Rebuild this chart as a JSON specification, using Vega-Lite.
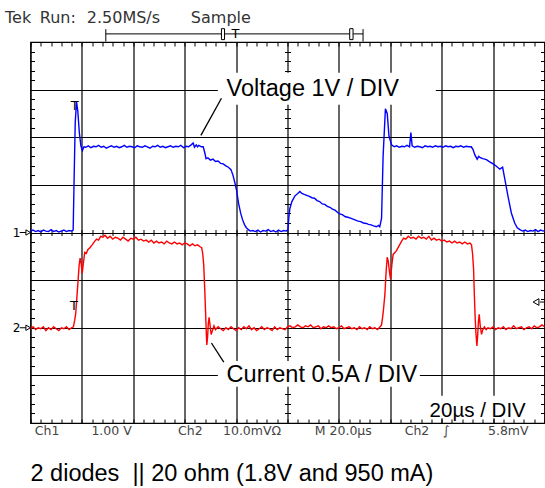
{
  "$schema": "https://vega.github.io/schema/vega-lite/v6.json",
  "autosize": {"type": "none"},
  "width": 514,
  "height": 381,
  "padding": {"left": 30.5, "top": 42, "right": 0.5, "bottom": 65},
  "background": "#ffffff",
  "config": {
    "view": {"stroke": "#000000", "strokeWidth": 1.2},
    "axis": {"grid": false, "labels": false, "domain": false, "tickColor": "#000000", "tickWidth": 1, "gridColor": "#000000", "gridOpacity": 1, "gridWidth": 1.2}
  },
  "datasets": {
    "voltage": [
      {"t":0,"v":0.03},{"t":1,"v":0.05},{"t":2,"v":0.02},{"t":3,"v":0.04},{"t":4,"v":0.01},{"t":5,"v":0.05},{"t":6,"v":0.03},{"t":7,"v":0.02},{"t":8,"v":0.06},{"t":9,"v":0.02},{"t":10,"v":0.04},{"t":11,"v":0.01},{"t":12,"v":0.03},{"t":13,"v":0.05},{"t":14,"v":0.02},{"t":15,"v":0.04},{"t":16,"v":0.03},{"t":16.6,"v":0.05},
      {"t":17.0,"v":1.2},{"t":17.4,"v":2.3},{"t":17.9,"v":2.75},{"t":18.4,"v":2.55},{"t":19.0,"v":2.1},{"t":19.6,"v":1.82},{"t":20.2,"v":1.72},{"t":20.8,"v":1.8},
      {"t":21.5,"v":1.79},{"t":22.5,"v":1.82},{"t":23.5,"v":1.78},{"t":24.5,"v":1.81},{"t":25.5,"v":1.8},{"t":26.5,"v":1.83},{"t":27.5,"v":1.79},{"t":28.5,"v":1.81},{"t":29.5,"v":1.77},{"t":30.5,"v":1.8},{"t":31.5,"v":1.82},{"t":32.5,"v":1.79},{"t":33.5,"v":1.81},{"t":34.5,"v":1.78},{"t":35.5,"v":1.8},{"t":36.5,"v":1.83},{"t":37.5,"v":1.79},{"t":38.5,"v":1.81},{"t":39.5,"v":1.8},{"t":40.5,"v":1.78},{"t":41.5,"v":1.82},{"t":42.5,"v":1.8},{"t":43.5,"v":1.79},{"t":44.5,"v":1.82},{"t":45.5,"v":1.8},{"t":46.5,"v":1.77},{"t":47.5,"v":1.81},{"t":48.5,"v":1.8},{"t":49.5,"v":1.83},{"t":50.5,"v":1.79},{"t":51.5,"v":1.81},{"t":52.5,"v":1.78},{"t":53.5,"v":1.8},{"t":54.5,"v":1.82},{"t":55.5,"v":1.79},{"t":56.5,"v":1.81},{"t":57.5,"v":1.8},{"t":58.5,"v":1.83},{"t":59.5,"v":1.78},{"t":60.5,"v":1.81},{"t":61.5,"v":1.8},{"t":62.5,"v":1.84},{"t":63.3,"v":1.88},{"t":63.8,"v":1.79},{"t":64.5,"v":1.84},{"t":65.0,"v":1.8},{"t":65.5,"v":1.83},{"t":66.5,"v":1.8},{"t":67.2,"v":1.8},
      {"t":67.8,"v":1.68},{"t":68.3,"v":1.55},{"t":69,"v":1.57},{"t":70,"v":1.52},{"t":71,"v":1.54},{"t":72,"v":1.49},{"t":73,"v":1.5},{"t":74,"v":1.45},{"t":75,"v":1.44},{"t":76,"v":1.4},{"t":77,"v":1.37},{"t":78,"v":1.32},
      {"t":78.8,"v":1.2},{"t":79.5,"v":1.05},{"t":80.2,"v":0.88},{"t":81,"v":0.6},{"t":81.8,"v":0.4},{"t":82.5,"v":0.27},{"t":83.3,"v":0.16},{"t":84,"v":0.1},{"t":84.8,"v":0.06},{"t":85.5,"v":0.03},
      {"t":86.5,"v":0.04},{"t":87.5,"v":0.02},{"t":88.5,"v":0.05},{"t":89.5,"v":0.01},{"t":90.5,"v":0.04},{"t":91.5,"v":0.03},{"t":92.5,"v":0.06},{"t":93.5,"v":0.02},{"t":94.5,"v":0.04},{"t":95.5,"v":0.01},{"t":96.5,"v":0.05},{"t":97.5,"v":0.02},{"t":98.5,"v":0.04},{"t":99.5,"v":0.03},
      {"t":100.2,"v":0.06},{"t":100.5,"v":0.3},{"t":100.9,"v":0.5},{"t":101.7,"v":0.65},{"t":102.9,"v":0.77},{"t":104,"v":0.82},{"t":104.8,"v":0.86},{"t":105.6,"v":0.82},{"t":106.5,"v":0.8},{"t":107.5,"v":0.78},{"t":108.5,"v":0.76},{"t":109.5,"v":0.73},{"t":110.5,"v":0.72},{"t":111.5,"v":0.67},{"t":112.5,"v":0.65},{"t":113.5,"v":0.6},{"t":114.5,"v":0.59},{"t":115.5,"v":0.55},{"t":116.5,"v":0.53},{"t":117.5,"v":0.49},{"t":118.5,"v":0.47},{"t":119.5,"v":0.42},{"t":120.4,"v":0.39},{"t":121.5,"v":0.37},{"t":122.5,"v":0.33},{"t":123.5,"v":0.32},{"t":124.5,"v":0.3},{"t":125.5,"v":0.28},{"t":126.5,"v":0.26},{"t":127.5,"v":0.24},{"t":128.5,"v":0.23},{"t":129.5,"v":0.2},{"t":130.7,"v":0.19},{"t":131.5,"v":0.17},{"t":132.5,"v":0.16},{"t":133.5,"v":0.14},{"t":134.6,"v":0.12},{"t":135.4,"v":0.15},{"t":135.9,"v":0.12},
      {"t":136.6,"v":0.3},{"t":137.2,"v":1.6},{"t":138.1,"v":2.6},{"t":138.8,"v":2.5},{"t":139.5,"v":2.02},{"t":140.5,"v":1.84},
      {"t":141.5,"v":1.8},{"t":142.5,"v":1.82},{"t":143.5,"v":1.79},{"t":144.5,"v":1.81},{"t":145.5,"v":1.8},{"t":146.5,"v":1.83},{"t":147.5,"v":1.8},{"t":148.0,"v":2.1},{"t":148.5,"v":1.82},{"t":149.5,"v":1.79},{"t":150.5,"v":1.81},{"t":151.5,"v":1.8},{"t":152.5,"v":1.78},{"t":153.5,"v":1.82},{"t":154.5,"v":1.8},{"t":155.5,"v":1.81},{"t":156.5,"v":1.79},{"t":157.5,"v":1.82},{"t":158.5,"v":1.8},{"t":159.5,"v":1.81},{"t":160.5,"v":1.79},{"t":161.5,"v":1.82},{"t":162.5,"v":1.8},{"t":163.5,"v":1.81},{"t":164.5,"v":1.78},{"t":165.5,"v":1.81},{"t":166.5,"v":1.8},{"t":167.5,"v":1.82},{"t":168.5,"v":1.79},{"t":169.5,"v":1.81},{"t":170.5,"v":1.8},{"t":171.5,"v":1.8},
      {"t":172.2,"v":1.74},{"t":172.9,"v":1.63},{"t":173.8,"v":1.54},{"t":174.4,"v":1.6},{"t":175,"v":1.57},{"t":176,"v":1.55},{"t":177.4,"v":1.53},{"t":178.5,"v":1.49},{"t":180,"v":1.44},{"t":181.3,"v":1.39},{"t":182.6,"v":1.33},{"t":183.7,"v":1.37},
      {"t":184.6,"v":1.11},{"t":185.8,"v":0.76},{"t":187.1,"v":0.41},{"t":188.4,"v":0.2},{"t":189.4,"v":0.1},{"t":190.4,"v":0.06},
      {"t":191.5,"v":0.03},{"t":192.5,"v":0.05},{"t":193.5,"v":0.02},{"t":194.5,"v":0.04},{"t":195.5,"v":0.03},{"t":196.5,"v":0.06},{"t":197.5,"v":0.02},{"t":198.5,"v":0.05},{"t":199.5,"v":0.03},{"t":200,"v":0.04}
    ],
    "current": [
      {"t":0,"a":-0.01},{"t":1,"a":0.01},{"t":2,"a":-0.02},{"t":3,"a":0.0},{"t":4,"a":-0.01},{"t":5,"a":0.01},{"t":6,"a":-0.03},{"t":7,"a":0.0},{"t":8,"a":-0.02},{"t":9,"a":0.01},{"t":10,"a":-0.01},{"t":11,"a":-0.03},{"t":12,"a":0.0},{"t":13,"a":-0.01},{"t":14,"a":0.01},{"t":15,"a":-0.02},{"t":16,"a":0.0},{"t":16.7,"a":0.01},
      {"t":17.2,"a":0.08},{"t":17.6,"a":0.15},{"t":18.0,"a":0.3},{"t":18.5,"a":0.49},{"t":18.9,"a":0.65},{"t":19.3,"a":0.73},{"t":19.7,"a":0.68},{"t":20.1,"a":0.57},{"t":20.5,"a":0.66},{"t":21.1,"a":0.79},{"t":21.7,"a":0.78},{"t":22.3,"a":0.82},{"t":23.1,"a":0.84},{"t":24,"a":0.87},{"t":25,"a":0.91},{"t":25.7,"a":0.93},{"t":26.5,"a":0.92},{"t":27.3,"a":0.96},{"t":28.2,"a":0.95},{"t":29,"a":0.97},{"t":30,"a":0.94},{"t":31,"a":0.96},{"t":32,"a":0.93},{"t":33,"a":0.95},{"t":34,"a":0.94},{"t":35,"a":0.92},{"t":36,"a":0.95},{"t":37,"a":0.93},{"t":38,"a":0.91},{"t":39,"a":0.94},{"t":40,"a":0.93},{"t":41,"a":0.95},{"t":42,"a":0.92},{"t":43,"a":0.93},{"t":44,"a":0.91},{"t":45,"a":0.92},{"t":46,"a":0.9},{"t":47,"a":0.92},{"t":48,"a":0.89},{"t":49,"a":0.91},{"t":50,"a":0.89},{"t":51,"a":0.9},{"t":52,"a":0.88},{"t":53,"a":0.91},{"t":54,"a":0.89},{"t":55,"a":0.88},{"t":56,"a":0.9},{"t":57,"a":0.88},{"t":58,"a":0.89},{"t":59,"a":0.87},{"t":60,"a":0.89},{"t":61,"a":0.88},{"t":62,"a":0.86},{"t":63,"a":0.88},{"t":64,"a":0.86},{"t":65,"a":0.87},{"t":66,"a":0.85},{"t":66.6,"a":0.84},
      {"t":67.0,"a":0.78},{"t":67.4,"a":0.66},{"t":67.8,"a":0.4},{"t":68.1,"a":0.18},{"t":68.4,"a":-0.05},{"t":68.6,"a":-0.18},{"t":68.9,"a":-0.1},{"t":69.2,"a":0.05},{"t":69.5,"a":0.11},{"t":69.9,"a":0.02},{"t":70.3,"a":-0.07},{"t":70.8,"a":-0.03},{"t":71.4,"a":0.02},{"t":72,"a":-0.02},{"t":73,"a":0.01},{"t":74,"a":-0.01},{"t":75,"a":-0.03},{"t":76,"a":0.0},{"t":77,"a":-0.02},{"t":78,"a":0.01},{"t":79,"a":-0.01},{"t":80,"a":-0.03},{"t":81,"a":0.0},{"t":82,"a":-0.02},{"t":83,"a":0.01},{"t":84,"a":-0.01},{"t":85,"a":0.02},{"t":86,"a":-0.02},{"t":87,"a":0.0},{"t":88,"a":-0.03},{"t":89,"a":-0.01},{"t":90,"a":0.01},{"t":91,"a":-0.02},{"t":92,"a":0.0},{"t":93,"a":-0.01},{"t":94,"a":-0.03},{"t":95,"a":0.01},{"t":96,"a":-0.02},{"t":97,"a":0.0},{"t":98,"a":-0.01},{"t":99,"a":-0.02},{"t":100,"a":0.01},{"t":101,"a":0.02},{"t":102,"a":0.0},{"t":103,"a":0.01},{"t":104,"a":0.03},{"t":105,"a":0.01},{"t":106,"a":0.0},{"t":107,"a":0.02},{"t":108,"a":0.01},{"t":109,"a":0.03},{"t":110,"a":0.0},{"t":111,"a":0.01},{"t":112,"a":0.02},{"t":113,"a":-0.01},{"t":114,"a":0.01},{"t":115,"a":0.0},{"t":116,"a":0.02},{"t":117,"a":0.0},{"t":118,"a":0.01},{"t":119,"a":-0.01},{"t":120,"a":0.0},{"t":121,"a":0.02},{"t":122,"a":-0.01},{"t":123,"a":0.0},{"t":124,"a":0.01},{"t":125,"a":-0.01},{"t":126,"a":0.0},{"t":127,"a":-0.02},{"t":128,"a":0.01},{"t":129,"a":-0.01},{"t":130,"a":0.0},{"t":131,"a":-0.02},{"t":132,"a":0.01},{"t":133,"a":-0.01},{"t":134,"a":0.0},{"t":135,"a":-0.02},{"t":136,"a":0.01},
      {"t":136.6,"a":0.03},{"t":137.2,"a":0.15},{"t":137.9,"a":0.35},{"t":138.4,"a":0.6},{"t":138.8,"a":0.74},{"t":139.2,"a":0.7},{"t":139.7,"a":0.58},{"t":140.1,"a":0.51},{"t":140.6,"a":0.66},{"t":141.1,"a":0.77},{"t":141.8,"a":0.79},{"t":142.4,"a":0.81},{"t":143.4,"a":0.86},{"t":144.4,"a":0.91},{"t":145.2,"a":0.94},{"t":146,"a":0.93},{"t":147,"a":0.96},{"t":148,"a":0.94},{"t":149,"a":0.95},{"t":150,"a":0.93},{"t":151,"a":0.96},{"t":152,"a":0.94},{"t":153,"a":0.95},{"t":154,"a":0.93},{"t":155,"a":0.96},{"t":156,"a":0.92},{"t":157,"a":0.94},{"t":158,"a":0.92},{"t":159,"a":0.93},{"t":160,"a":0.91},{"t":161,"a":0.92},{"t":162,"a":0.9},{"t":163,"a":0.91},{"t":164,"a":0.89},{"t":165,"a":0.91},{"t":166,"a":0.89},{"t":167,"a":0.9},{"t":168,"a":0.88},{"t":169,"a":0.9},{"t":170,"a":0.88},{"t":171,"a":0.89},{"t":171.6,"a":0.87},
      {"t":172,"a":0.78},{"t":172.4,"a":0.62},{"t":172.7,"a":0.35},{"t":173,"a":0.12},{"t":173.3,"a":-0.05},{"t":173.7,"a":-0.19},{"t":174,"a":-0.08},{"t":174.3,"a":0.07},{"t":174.6,"a":0.14},{"t":175,"a":0.02},{"t":175.5,"a":-0.07},{"t":176,"a":-0.02},{"t":176.6,"a":0.01},{"t":177.3,"a":-0.02},{"t":178,"a":0.0},{"t":179,"a":-0.01},{"t":180,"a":0.01},{"t":181,"a":-0.02},{"t":182,"a":0.0},{"t":183,"a":-0.01},{"t":184,"a":0.01},{"t":185,"a":-0.02},{"t":186,"a":0.0},{"t":187,"a":-0.01},{"t":188,"a":0.02},{"t":189,"a":-0.01},{"t":190,"a":0.0},{"t":191,"a":0.01},{"t":192,"a":-0.02},{"t":193,"a":0.0},{"t":194,"a":0.01},{"t":195,"a":-0.01},{"t":196,"a":0.02},{"t":197,"a":0.0},{"t":198,"a":0.01},{"t":199,"a":0.03},{"t":200,"a":0.01}
    ],
    "boxes": [
      {"t1":72.9,"t2":157.7,"v1":3.355,"v2":2.68},
      {"t1":72.9,"t2":151.5,"v1":-2.7,"v2":-3.24},
      {"t1":153.4,"t2":194.3,"v1":-3.43,"v2":-3.9}
    ],
    "leaders": [
      {"t1":74.3,"v1":2.82,"t2":66.3,"v2":2.04},
      {"t1":70.4,"v1":-2.32,"t2":75.2,"v2":-2.72}
    ],
    "bigLabels": [
      {"text":"Voltage 1V / DIV","t":76.3,"v":2.87},
      {"text":"Current 0.5A / DIV","t":76.3,"v":-3.13}
    ],
    "timeLabel": [{"text":"20µs / DIV","t":155.3,"v":-3.88}],
    "caption": [{"text":"2 diodes\u00a0 || 20 ohm (1.8V and 950 mA)","t":0,"v":-5.21}],
    "topText": [
      {"text":"Tek","t":-9.9,"v":4.395},
      {"text":"Run:","t":3.6,"v":4.395},
      {"text":"2.50MS/s","t":21.9,"v":4.395},
      {"text":"Sample","t":62.4,"v":4.395}
    ],
    "bottomText": [
      {"text":"Ch1","t":1.7,"v":-4.26},
      {"text":"1.00 V","t":23.7,"v":-4.26},
      {"text":"Ch2","t":57.4,"v":-4.26},
      {"text":"10.0mVΩ","t":74.9,"v":-4.26},
      {"text":"M 20.0µs","t":110.6,"v":-4.26},
      {"text":"Ch2","t":145.6,"v":-4.26},
      {"text":"∫","t":160.4,"v":-4.26},
      {"text":"5.8mV","t":178,"v":-4.26}
    ],
    "markers": [
      {"text":"T","t":17.2,"v":2.79},
      {"text":"T","t":16.9,"v":-1.41},
      {"text":"T","t":79.8,"v":4.29}
    ],
    "chanLabels": [
      {"text":"1","t":-6.9,"v":0},
      {"text":"2","t":-6.9,"v":-2}
    ],
    "arrowStems": [
      {"t1":-4.2,"t2":-1.6,"v":0},
      {"t1":-4.2,"t2":-1.6,"v":-2},
      {"t1":198.2,"t2":200.1,"v":-1.46},
      {"t1":29.3,"t2":129.4,"v":4.17}
    ],
    "rulerCaps": [
      {"t":29.3,"v1":4.01,"v2":4.27},
      {"t":129.4,"v1":4.01,"v2":4.27}
    ],
    "rulerBoxes": [
      {"t1":74.3,"t2":75.5,"v1":4.05,"v2":4.28},
      {"t1":124.2,"t2":125.5,"v1":4.05,"v2":4.28}
    ],
    "arrowsRight": [
      {"t":-0.9,"v":0},
      {"t":-0.9,"v":-2}
    ],
    "arrowsLeft": [
      {"t":196.7,"v":-1.46}
    ]
  },
  "resolve": {"scale": {"y": "independent"}, "axis": {"x": "independent", "y": "independent"}},
  "layer": [
    {
      "data": {"name": "boxes"},
      "mark": {"type": "rect", "fill": "#ffffff", "stroke": null},
      "encoding": {
        "x": {"field": "t1", "type": "quantitative", "scale": {"domain": [0, 200], "nice": false, "zero": false},
              "axis": {"orient": "bottom", "title": null, "values": [0,20,40,60,80,100,120,140,160,180,200], "grid": true, "ticks": false}},
        "x2": {"field": "t2"},
        "y": {"field": "v1", "type": "quantitative", "scale": {"domain": [-4, 4], "nice": false, "zero": false},
              "axis": {"orient": "left", "title": null, "values": [-4,-3,-2,-1,0,1,2,3,4], "grid": true, "ticks": false}},
        "y2": {"field": "v2"}
      }
    },
    {
      "data": {"name": "voltage"},
      "mark": {"type": "line", "color": "#0000ff", "strokeWidth": 1.4},
      "encoding": {
        "x": {"field": "t", "type": "quantitative", "scale": {"domain": [0, 200], "nice": false, "zero": false},
              "axis": {"orient": "bottom", "title": null, "tickSize": -4, "values": [0,4,8,12,16,20,24,28,32,36,40,44,48,52,56,60,64,68,72,76,80,84,88,92,96,100,104,108,112,116,120,124,128,132,136,140,144,148,152,156,160,164,168,172,176,180,184,188,192,196,200]}},
        "y": {"field": "v", "type": "quantitative", "scale": {"domain": [-4, 4], "nice": false, "zero": false},
              "axis": {"orient": "left", "title": null, "tickSize": -4, "values": [-4,-3.8,-3.6,-3.4,-3.2,-3,-2.8,-2.6,-2.4,-2.2,-2,-1.8,-1.6,-1.4,-1.2,-1,-0.8,-0.6,-0.4,-0.2,0,0.2,0.4,0.6,0.8,1,1.2,1.4,1.6,1.8,2,2.2,2.4,2.6,2.8,3,3.2,3.4,3.6,3.8,4]}}
      }
    },
    {
      "data": {"name": "current"},
      "mark": {"type": "line", "color": "#ff0000", "strokeWidth": 1.4},
      "encoding": {
        "x": {"field": "t", "type": "quantitative", "scale": {"domain": [0, 200], "nice": false, "zero": false},
              "axis": {"orient": "top", "title": null, "tickSize": -4, "values": [0,4,8,12,16,20,24,28,32,36,40,44,48,52,56,60,64,68,72,76,80,84,88,92,96,100,104,108,112,116,120,124,128,132,136,140,144,148,152,156,160,164,168,172,176,180,184,188,192,196,200]}},
        "y": {"field": "a", "type": "quantitative", "scale": {"domain": [-1, 3], "nice": false, "zero": false},
              "axis": {"orient": "right", "title": null, "tickSize": -4, "values": [-1,-0.9,-0.8,-0.7,-0.6,-0.5,-0.4,-0.3,-0.2,-0.1,0,0.1,0.2,0.3,0.4,0.5,0.6,0.7,0.8,0.9,1,1.1,1.2,1.3,1.4,1.5,1.6,1.7,1.8,1.9,2,2.1,2.2,2.3,2.4,2.5,2.6,2.7,2.8,2.9,3]}}
      }
    },
    {
      "data": {"name": "leaders"},
      "mark": {"type": "rule", "color": "#000000", "strokeWidth": 1.3},
      "encoding": {
        "x": {"field": "t1", "type": "quantitative", "scale": {"domain": [0, 200], "nice": false, "zero": false},
              "axis": {"orient": "bottom", "title": null, "offset": -187.5, "tickSize": -6, "values": [0,4,8,12,16,20,24,28,32,36,40,44,48,52,56,60,64,68,72,76,80,84,88,92,96,100,104,108,112,116,120,124,128,132,136,140,144,148,152,156,160,164,168,172,176,180,184,188,192,196,200]}},
        "x2": {"field": "t2"},
        "y": {"field": "v1", "type": "quantitative", "scale": {"domain": [-4, 4], "nice": false, "zero": false},
              "axis": {"orient": "left", "title": null, "offset": -254, "tickSize": -6, "values": [-4,-3.8,-3.6,-3.4,-3.2,-3,-2.8,-2.6,-2.4,-2.2,-2,-1.8,-1.6,-1.4,-1.2,-1,-0.8,-0.6,-0.4,-0.2,0,0.2,0.4,0.6,0.8,1,1.2,1.4,1.6,1.8,2,2.2,2.4,2.6,2.8,3,3.2,3.4,3.6,3.8,4]}},
        "y2": {"field": "v2"}
      }
    },
    {
      "data": {"name": "bigLabels"},
      "mark": {"type": "text", "font": "Liberation Sans", "fontSize": 23.5, "align": "left", "baseline": "alphabetic", "color": "#000000"},
      "encoding": {
        "x": {"field": "t", "type": "quantitative", "scale": {"domain": [0, 200], "nice": false, "zero": false}, "axis": null},
        "y": {"field": "v", "type": "quantitative", "scale": {"domain": [-4, 4], "nice": false, "zero": false}, "axis": null},
        "text": {"field": "text"}
      }
    },
    {
      "data": {"name": "timeLabel"},
      "mark": {"type": "text", "font": "Liberation Sans", "fontSize": 20.5, "align": "left", "baseline": "alphabetic", "color": "#000000"},
      "encoding": {
        "x": {"field": "t", "type": "quantitative", "scale": {"domain": [0, 200], "nice": false, "zero": false}, "axis": null},
        "y": {"field": "v", "type": "quantitative", "scale": {"domain": [-4, 4], "nice": false, "zero": false}, "axis": null},
        "text": {"field": "text"}
      }
    },
    {
      "data": {"name": "caption"},
      "mark": {"type": "text", "font": "Liberation Sans", "fontSize": 23.5, "align": "left", "baseline": "alphabetic", "color": "#000000"},
      "encoding": {
        "x": {"field": "t", "type": "quantitative", "scale": {"domain": [0, 200], "nice": false, "zero": false}, "axis": null},
        "y": {"field": "v", "type": "quantitative", "scale": {"domain": [-4, 4], "nice": false, "zero": false}, "axis": null},
        "text": {"field": "text"}
      }
    },
    {
      "data": {"name": "topText"},
      "mark": {"type": "text", "font": "DejaVu Sans", "fontSize": 16, "align": "left", "baseline": "alphabetic", "color": "#333333"},
      "encoding": {
        "x": {"field": "t", "type": "quantitative", "scale": {"domain": [0, 200], "nice": false, "zero": false}, "axis": null},
        "y": {"field": "v", "type": "quantitative", "scale": {"domain": [-4, 4], "nice": false, "zero": false}, "axis": null},
        "text": {"field": "text"}
      }
    },
    {
      "data": {"name": "bottomText"},
      "mark": {"type": "text", "font": "DejaVu Sans", "fontSize": 12.5, "align": "left", "baseline": "alphabetic", "color": "#444444"},
      "encoding": {
        "x": {"field": "t", "type": "quantitative", "scale": {"domain": [0, 200], "nice": false, "zero": false}, "axis": null},
        "y": {"field": "v", "type": "quantitative", "scale": {"domain": [-4, 4], "nice": false, "zero": false}, "axis": null},
        "text": {"field": "text"}
      }
    },
    {
      "data": {"name": "markers"},
      "mark": {"type": "text", "font": "DejaVu Sans", "fontSize": 13, "align": "center", "baseline": "top", "color": "#000000"},
      "encoding": {
        "x": {"field": "t", "type": "quantitative", "scale": {"domain": [0, 200], "nice": false, "zero": false}, "axis": null},
        "y": {"field": "v", "type": "quantitative", "scale": {"domain": [-4, 4], "nice": false, "zero": false}, "axis": null},
        "text": {"field": "text"}
      }
    },
    {
      "data": {"name": "chanLabels"},
      "mark": {"type": "text", "font": "DejaVu Sans", "fontSize": 12, "align": "left", "baseline": "middle", "color": "#000000"},
      "encoding": {
        "x": {"field": "t", "type": "quantitative", "scale": {"domain": [0, 200], "nice": false, "zero": false}, "axis": null},
        "y": {"field": "v", "type": "quantitative", "scale": {"domain": [-4, 4], "nice": false, "zero": false}, "axis": null},
        "text": {"field": "text"}
      }
    },
    {
      "data": {"name": "arrowStems"},
      "mark": {"type": "rule", "color": "#000000", "strokeWidth": 1},
      "encoding": {
        "x": {"field": "t1", "type": "quantitative", "scale": {"domain": [0, 200], "nice": false, "zero": false}, "axis": null},
        "x2": {"field": "t2"},
        "y": {"field": "v", "type": "quantitative", "scale": {"domain": [-4, 4], "nice": false, "zero": false}, "axis": null}
      }
    },
    {
      "data": {"name": "rulerCaps"},
      "mark": {"type": "rule", "color": "#000000", "strokeWidth": 1},
      "encoding": {
        "x": {"field": "t", "type": "quantitative", "scale": {"domain": [0, 200], "nice": false, "zero": false}, "axis": null},
        "y": {"field": "v1", "type": "quantitative", "scale": {"domain": [-4, 4], "nice": false, "zero": false}, "axis": null},
        "y2": {"field": "v2"}
      }
    },
    {
      "data": {"name": "rulerBoxes"},
      "mark": {"type": "rect", "fill": "#ffffff", "stroke": "#000000", "strokeWidth": 1},
      "encoding": {
        "x": {"field": "t1", "type": "quantitative", "scale": {"domain": [0, 200], "nice": false, "zero": false}, "axis": null},
        "x2": {"field": "t2"},
        "y": {"field": "v1", "type": "quantitative", "scale": {"domain": [-4, 4], "nice": false, "zero": false}, "axis": null},
        "y2": {"field": "v2"}
      }
    },
    {
      "data": {"name": "arrowsRight"},
      "mark": {"type": "point", "shape": "triangle-right", "filled": true, "fill": "#ffffff", "stroke": "#000000", "strokeWidth": 1, "size": 28, "opacity": 1},
      "encoding": {
        "x": {"field": "t", "type": "quantitative", "scale": {"domain": [0, 200], "nice": false, "zero": false}, "axis": null},
        "y": {"field": "v", "type": "quantitative", "scale": {"domain": [-4, 4], "nice": false, "zero": false}, "axis": null}
      }
    },
    {
      "data": {"name": "arrowsLeft"},
      "mark": {"type": "point", "shape": "triangle-left", "filled": true, "fill": "#ffffff", "stroke": "#000000", "strokeWidth": 1, "size": 45, "opacity": 1},
      "encoding": {
        "x": {"field": "t", "type": "quantitative", "scale": {"domain": [0, 200], "nice": false, "zero": false}, "axis": null},
        "y": {"field": "v", "type": "quantitative", "scale": {"domain": [-4, 4], "nice": false, "zero": false}, "axis": null}
      }
    }
  ]
}
